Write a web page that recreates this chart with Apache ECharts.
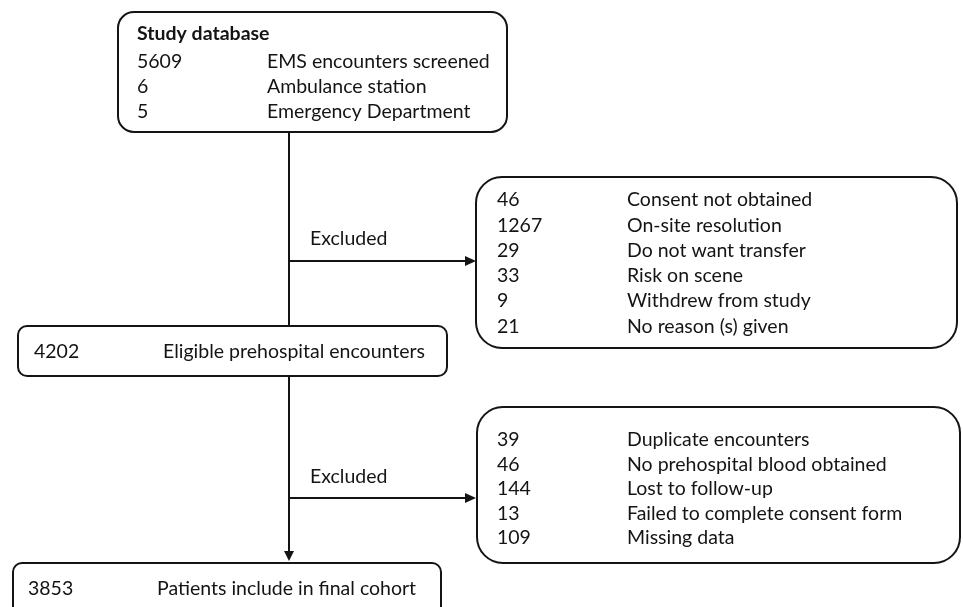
<!DOCTYPE html>
<html>
<head>
<meta charset="utf-8">
<script src="https://cdn.jsdelivr.net/npm/echarts@6/dist/echarts.min.js"></script>
<style>
html, body { margin: 0; padding: 0; background: #fff; }
#main { width: 963px; height: 607px; }
</style>
</head>
<body>
<div id="main"></div>
<script>
/* data */
var dbTitle = 'Study database';
var dbCounts = [5609, 6, 5];
var dbLabels = ['EMS encounters screened', 'Ambulance station', 'Emergency Department'];

var excl1Counts = [46, 1267, 29, 33, 9, 21];
var excl1Labels = ['Consent not obtained', 'On-site resolution', 'Do not want transfer',
	'Risk on scene', 'Withdrew from study', 'No reason (s) given'];

var eligibleCount = [4202];
var eligibleLabel = ['Eligible prehospital encounters'];

var excl2Counts = [39, 46, 144, 13, 109];
var excl2Labels = ['Duplicate encounters', 'No prehospital blood obtained', 'Lost to follow-up',
	'Failed to complete consent form', 'Missing data'];

var finalCount = [3853];
var finalLabel = ['Patients include in final cohort'];

var arrowText = 'Excluded';

/* styles */
var ink = '#141414';
var font = 'Lato, "Open Sans", sans-serif';
var fsize = 19.5;

var els = [];

function box(x, y, w, h, r) {
	els.push({
		type: 'rect',
		shape: { x: x, y: y, width: w, height: h, r: r },
		style: { fill: '#fff', stroke: ink, lineWidth: 2 },
		z: 1
	});
}

function txt(s, x, y, bold) {
	els.push({
		type: 'text',
		x: x, y: y,
		style: {
			text: String(s),
			fill: ink,
			fontSize: fsize,
			fontFamily: font,
			fontWeight: bold ? 'bold' : 'normal',
			align: 'left',
			verticalAlign: 'middle'
		},
		z: 3
	});
}

function rows(counts, labels, xNum, xLab, y0, step) {
	for (var i = 0; i < counts.length; i++) {
		txt(counts[i], xNum, y0 + i * step);
		txt(labels[i], xLab, y0 + i * step);
	}
}

function line(x1, y1, x2, y2) {
	els.push({
		type: 'line',
		shape: { x1: x1, y1: y1, x2: x2, y2: y2 },
		style: { stroke: ink, lineWidth: 2 },
		z: 0
	});
}

function head(points) {
	els.push({
		type: 'polygon',
		shape: { points: points },
		style: { fill: ink },
		z: 2
	});
}

var cx = 289; // main trunk

// trunk
line(cx, 132, cx, 326);
line(cx, 376, cx, 552);
head([[cx - 5, 551], [cx + 5, 551], [cx, 561]]);

// exclusion branches
line(cx, 261, 466, 261);
head([[465, 256], [465, 266], [476, 261]]);
txt(arrowText, 310, 239);

line(cx, 498, 466, 498);
head([[465, 493], [465, 503], [476, 498]]);
txt(arrowText, 310, 477);

// study database
box(118, 12, 389, 120, 16);
txt(dbTitle, 137, 34, true);
rows(dbCounts, dbLabels, 137, 267, 62, 25);

// first exclusions
box(476, 177, 481, 171, 26);
rows(excl1Counts, excl1Labels, 497, 627, 200, 25.3);

// eligible
box(18, 326, 429, 50, 9);
rows(eligibleCount, eligibleLabel, 34, 163, 352, 0);

// second exclusions
box(477, 407, 483, 156, 26);
rows(excl2Counts, excl2Labels, 497, 627, 440, 24.5);

// final cohort
box(13, 563, 428, 60, 9);
rows(finalCount, finalLabel, 28, 157, 589, 0);

var myChart = echarts.init(document.getElementById('main'));
myChart.setOption({
	backgroundColor: '#fff',
	animation: false,
	graphic: { elements: els }
});
</script>
</body>
</html>
